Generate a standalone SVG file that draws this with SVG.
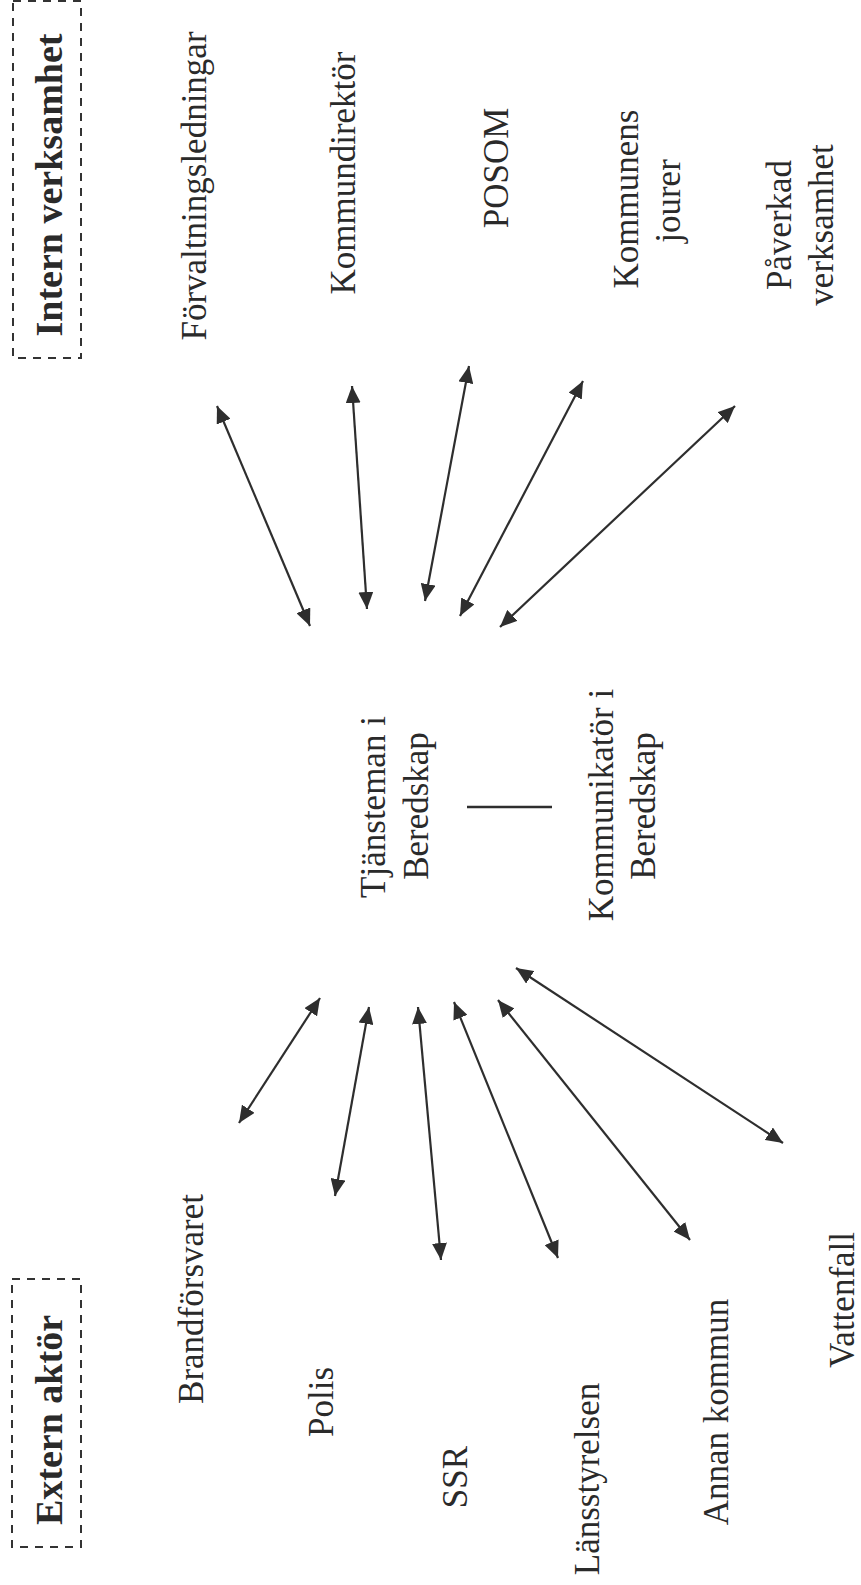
<svg xmlns="http://www.w3.org/2000/svg" width="861" height="1585" viewBox="0 0 861 1585">
<defs>
<marker id="ah" viewBox="0 0 17 15" refX="17" refY="7.5" markerWidth="17" markerHeight="15" markerUnits="userSpaceOnUse" orient="auto-start-reverse">
<path d="M0,0 L17,7.5 L0,15 z" fill="#2e2e2e"/>
</marker>
<style>
.t{font-family:"Liberation Serif","Times New Roman",serif;font-size:35px;fill:#2a2a2a;text-anchor:middle}
.h{font-family:"Liberation Serif","Times New Roman",serif;font-size:38px;font-weight:bold;fill:#2a2a2a;text-anchor:middle}
.box{fill:none;stroke:#333;stroke-width:2;stroke-dasharray:8 7}
.c{stroke:#2e2e2e;stroke-width:2.2;fill:none;marker-start:url(#ah);marker-end:url(#ah)}
</style>
</defs>
<rect width="861" height="1585" fill="#ffffff"/>
<g id="intern">
<rect class="box" x="13" y="1" width="68" height="357"/>
<text class="h" transform="translate(62,185) rotate(-90)">Intern verksamhet</text>
</g>
<g id="extern">
<rect class="box" x="12" y="1279" width="69" height="268"/>
<text class="h" transform="translate(62,1420) rotate(-90)">Extern aktör</text>
</g>
<g id="forvaltningsledningar"><text class="t" transform="translate(206,186) rotate(-90)">Förvaltningsledningar</text></g>
<g id="kommundirektor"><text class="t" transform="translate(355,173) rotate(-90)">Kommundirektör</text></g>
<g id="posom"><text class="t" transform="translate(508,168) rotate(-90)">POSOM</text></g>
<g id="kommunens-jourer">
<text class="t" transform="translate(638,199) rotate(-90)">Kommunens</text>
<text class="t" transform="translate(680,201) rotate(-90)">jourer</text>
</g>
<g id="paverkad-verksamhet">
<text class="t" transform="translate(791,225) rotate(-90)">Påverkad</text>
<text class="t" transform="translate(833,225) rotate(-90)">verksamhet</text>
</g>
<g id="tjansteman">
<text class="t" transform="translate(385,807) rotate(-90)">Tjänsteman i</text>
<text class="t" transform="translate(428,806) rotate(-90)">Beredskap</text>
</g>
<g id="kommunikator">
<text class="t" transform="translate(613,805) rotate(-90)">Kommunikatör i</text>
<text class="t" transform="translate(655,806) rotate(-90)">Beredskap</text>
</g>
<g id="brandforsvaret"><text class="t" transform="translate(203,1299) rotate(-90)">Brandförsvaret</text></g>
<g id="polis"><text class="t" transform="translate(333,1402) rotate(-90)">Polis</text></g>
<g id="ssr"><text class="t" transform="translate(467,1477) rotate(-90)">SSR</text></g>
<g id="lansstyrelsen"><text class="t" transform="translate(599,1479) rotate(-90)">Länsstyrelsen</text></g>
<g id="annan-kommun"><text class="t" transform="translate(728,1412) rotate(-90)">Annan kommun</text></g>
<g id="vattenfall"><text class="t" transform="translate(854,1300) rotate(-90)">Vattenfall</text></g>
<g id="connectors">
<line x1="467" y1="807" x2="552" y2="807" stroke="#2e2e2e" stroke-width="2.5"/>
<line class="c" x1="217" y1="406" x2="310" y2="626"/>
<line class="c" x1="352" y1="386" x2="367" y2="609"/>
<line class="c" x1="469" y1="366" x2="425" y2="601"/>
<line class="c" x1="583" y1="381" x2="460" y2="616"/>
<line class="c" x1="735" y1="406" x2="500" y2="627"/>
<line class="c" x1="320" y1="998" x2="239" y2="1123"/>
<line class="c" x1="369" y1="1007" x2="335" y2="1196"/>
<line class="c" x1="418" y1="1007" x2="441" y2="1260"/>
<line class="c" x1="454" y1="1002" x2="558" y2="1258"/>
<line class="c" x1="498" y1="1000" x2="690" y2="1240"/>
<line class="c" x1="516" y1="968" x2="783" y2="1143"/>
</g>
</svg>
